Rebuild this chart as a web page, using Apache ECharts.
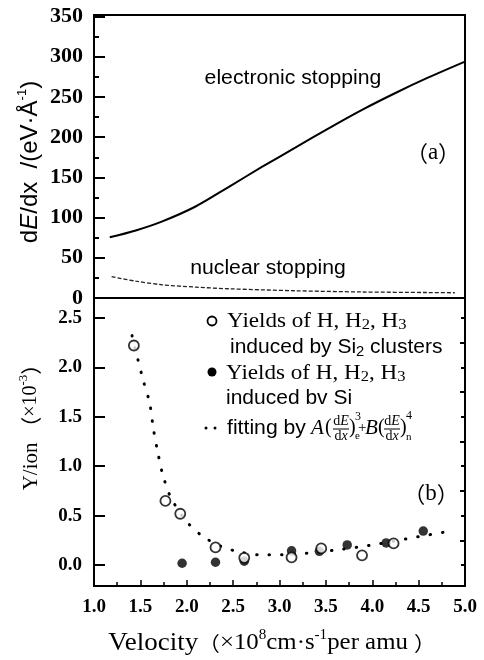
<!DOCTYPE html>
<html>
<head>
<meta charset="utf-8">
<script src="https://cdn.jsdelivr.net/npm/echarts@6/dist/echarts.min.js"></script>
<style>
  html, body { margin: 0; padding: 0; background: #fff; }
  #chart { width: 484px; height: 660px; }
</style>
</head>
<body>
<div id="chart"></div>
<script>
// (a) stopping power vs velocity
const elecVel = [1.17, 1.45, 1.73, 2.09, 2.45, 2.81, 3.17, 3.53, 3.89, 4.25, 4.60, 5.0];
const elecDE = [75.5, 84, 95, 113.5, 138, 163, 187, 211, 234, 255, 274, 294];
const nuclVel = [1.19, 1.45, 1.73, 2.1, 2.45, 3.17, 3.89, 4.6, 4.89];
const nuclDE = [26.5, 21, 16.5, 13.5, 11.5, 9, 7.5, 6.8, 6.5];

// (b) yields per ion (x10^-3)
const clusterVel = [1.43, 1.77, 1.93, 2.31, 2.62, 3.13, 3.45, 3.89, 4.23];
const clusterY = [2.22, 0.65, 0.52, 0.18, 0.075, 0.08, 0.17, 0.10, 0.22];
const siVel = [1.95, 2.31, 2.62, 3.13, 3.43, 3.73, 4.15, 4.55];
const siY = [0.02, 0.03, 0.04, 0.145, 0.14, 0.205, 0.225, 0.345];
const fitVel = [1.41, 1.47, 1.53, 1.60, 1.64, 1.69, 1.74, 1.83, 2.0, 2.16, 2.37, 2.52, 2.78, 3.02, 3.28, 3.58, 3.97, 4.36, 4.78];
const fitY = [2.32, 2.09, 1.87, 1.64, 1.38, 1.13, 0.92, 0.68, 0.44, 0.30, 0.19, 0.145, 0.105, 0.105, 0.12, 0.15, 0.20, 0.265, 0.335];

// ticks
const topTicks = [0, 50, 100, 150, 200, 250, 300, 350];
const botMajor = [0, 0.5, 1.0, 1.5, 2.0, 2.5];
const botMinor = [0.25, 0.75, 1.25, 1.75, 2.25];

const SERIF = '"Liberation Serif", "Times New Roman", serif';
const SANS = '"Liberation Sans", Arial, sans-serif';
const CJK = '"Noto Sans CJK SC", sans-serif';

const zip = (a, b) => a.map((v, i) => [v, b[i]]);

const chart = echarts.init(document.getElementById('chart'), null, { renderer: 'canvas' });

// scanned lettering is a bit wider than the fonts we have
function txt(x, y, text, rich, extra, sx) {
  return {
    type: 'text', x: x, y: y, z: 100, scaleX: sx || 1,
    style: Object.assign({ text: text, rich: rich, fill: '#000', align: 'left', verticalAlign: 'middle' }, extra || {})
  };
}

const richBase = {
  t: { fontFamily: SERIF, fontSize: 21, lineHeight: 24, color: '#000' },
  s: { fontFamily: SANS, fontSize: 20, lineHeight: 24, color: '#000' },
  b: { fontFamily: SERIF, fontSize: 15, lineHeight: 14, verticalAlign: 'bottom', color: '#000' },
  bs: { fontFamily: SANS, fontSize: 14, lineHeight: 14, verticalAlign: 'bottom', color: '#000' },
  p: { fontFamily: CJK, fontSize: 22, lineHeight: 26, color: '#000' },
  pt: { fontFamily: SERIF, fontSize: 23, lineHeight: 26, color: '#000' }
};
const fracRich = {
  n: { fontFamily: SERIF, fontSize: 14 },
  i: { fontFamily: SERIF, fontSize: 14, fontStyle: 'italic' }
};

const graphic = [
  // axis names
  Object.assign(txt(30, 162, '{n|d}{i|E}{n|/dx  /(eV·Å}{u|-1}{n|)}', {
    n: { fontFamily: SANS, fontSize: 24, lineHeight: 28 },
    i: { fontFamily: SANS, fontSize: 24, lineHeight: 28, fontStyle: 'italic' },
    u: { fontFamily: SANS, fontSize: 13, lineHeight: 13, verticalAlign: 'top' }
  }, { align: 'center' }), { rotation: Math.PI / 2 }),
  Object.assign(txt(31, 422, '{n|Y/ion}{p| （}{m|×10}{u|-3}{p|）}', {
    n: { fontFamily: SERIF, fontSize: 21, lineHeight: 28 },
    m: { fontFamily: SERIF, fontSize: 20, lineHeight: 28 },
    p: { fontFamily: CJK, fontSize: 21, lineHeight: 28 },
    u: { fontFamily: SERIF, fontSize: 13, lineHeight: 13, verticalAlign: 'top' }
  }, { align: 'center' }), { rotation: Math.PI / 2 }),
  txt(272, 643, '{v|Velocity}{p|（}{m|×10}{u|8}{m|cm·s}{u|-1}{m|per amu }{p|）}', {
    v: { fontFamily: SERIF, fontSize: 25, lineHeight: 30 },
    m: { fontFamily: SERIF, fontSize: 23, lineHeight: 30 },
    p: { fontFamily: CJK, fontSize: 20, lineHeight: 30 },
    u: { fontFamily: SERIF, fontSize: 14, lineHeight: 14, verticalAlign: 'top' }
  }, { align: 'center' }, 1.08),

  // panel (a) annotations
  txt(293, 78, '{s|electronic stopping}', richBase, { align: 'center' }, 1.06),
  txt(268, 268, '{s|nuclear stopping}', richBase, { align: 'center' }, 1.06),
  txt(433, 153, '{p|（}{pt|a}{p|）}', richBase, { align: 'center' }),
  txt(431, 494, '{p|（}{pt|b}{p|）}', richBase, { align: 'center' }),

  // legend of panel (b)
  { type: 'circle', z: 100, shape: { cx: 212, cy: 321, r: 4.5 }, style: { fill: '#fff', stroke: '#000', lineWidth: 1.8 } },
  txt(227, 321, '{t|Yields of H, H}{b|2}{t|, H}{b|3}', richBase, null, 1.1),
  txt(230, 347, '{s|induced by Si}{bs|2}{s| clusters}', richBase, null, 1.05),
  { type: 'circle', z: 100, shape: { cx: 212, cy: 372, r: 4.5 }, style: { fill: '#000' } },
  txt(226, 373, '{t|Yields of H, H}{b|2}{t|, H}{b|3}', richBase, null, 1.1),
  txt(226, 398, '{s|induced bv Si}', richBase, null, 1.05),
  { type: 'circle', z: 100, shape: { cx: 206, cy: 428, r: 1.5 }, style: { fill: '#000' } },
  { type: 'circle', z: 100, shape: { cx: 215, cy: 428, r: 1.5 }, style: { fill: '#000' } },
  txt(227, 428, '{s|fitting by}', richBase, null, 1.06),
  txt(311, 428, 'A', null, { font: 'italic 21px ' + SERIF }),
  txt(325, 428, '(', null, { font: '20px ' + SERIF }),
  txt(341, 421, '{n|d}{i|E}', fracRich, { align: 'center' }),
  txt(341, 436, '{n|d}{i|x}', fracRich, { align: 'center' }),
  { type: 'line', z: 100, shape: { x1: 333, y1: 429, x2: 349, y2: 429 }, style: { stroke: '#000', lineWidth: 1 } },
  txt(349, 428, ')', null, { font: '20px ' + SERIF }),
  txt(355, 417, '3', null, { font: '12px ' + SERIF }),
  txt(355, 436, 'e', null, { font: '11px ' + SERIF }),
  txt(358, 428, '+', null, { font: '15px ' + SERIF }),
  txt(365, 428, 'B', null, { font: 'italic 21px ' + SERIF }),
  txt(378, 428, '(', null, { font: '20px ' + SERIF }),
  txt(392, 421, '{n|d}{i|E}', fracRich, { align: 'center' }),
  txt(392, 436, '{n|d}{i|x}', fracRich, { align: 'center' }),
  { type: 'line', z: 100, shape: { x1: 384, y1: 429, x2: 400, y2: 429 }, style: { stroke: '#000', lineWidth: 1 } },
  txt(400, 428, ')', null, { font: '20px ' + SERIF }),
  txt(406, 416, '4', null, { font: '12px ' + SERIF }),
  txt(406, 437, 'n', null, { font: '11px ' + SERIF })
];

const option = {
  animation: false,
  backgroundColor: '#fff',
  grid: [
    { left: 94, right: 19, top: 15, height: 283, show: true, borderColor: '#000', borderWidth: 2, backgroundColor: 'transparent' },
    { left: 94, right: 19, top: 298, height: 288, show: true, borderColor: '#000', borderWidth: 2, backgroundColor: 'transparent' }
  ],
  xAxis: [
    {
      gridIndex: 0, type: 'value', min: 1, max: 5, interval: 0.5,
      axisLine: { show: false }, axisTick: { show: false }, axisLabel: { show: false }, splitLine: { show: false }
    },
    {
      gridIndex: 1, type: 'value', min: 1, max: 5, interval: 0.5,
      axisLine: { show: true, onZero: false, lineStyle: { color: '#000', width: 2 } },
      axisTick: { inside: true, length: 6, lineStyle: { color: '#000', width: 1.5 } },
      minorTick: { show: true, splitNumber: 2, length: 4, lineStyle: { color: '#000', width: 1.5 } },
      axisLabel: {
        margin: 12, color: '#000', fontFamily: SERIF, fontSize: 19, fontWeight: 'bold',
        formatter: v => v.toFixed(1)
      },
      splitLine: { show: false }
    }
  ],
  yAxis: [
    {
      gridIndex: 0, type: 'value', min: 0, max: 352, interval: 50,
      axisLine: { show: true, lineStyle: { color: '#000', width: 2 } },
      axisTick: { inside: true, length: 11, lineStyle: { color: '#000', width: 2 } },
      minorTick: { show: true, splitNumber: 2, length: 5, lineStyle: { color: '#000', width: 2 } },
      axisLabel: {
        margin: 11, color: '#000', fontFamily: SERIF, fontSize: 22, fontWeight: 'bold',
        customValues: topTicks
      },
      splitLine: { show: false }
    },
    {
      gridIndex: 1, type: 'value', min: -0.21, max: 2.70,
      axisLine: { show: true, onZero: false, lineStyle: { color: '#000', width: 2 } },
      axisTick: { inside: true, length: 11, customValues: botMajor, lineStyle: { color: '#000', width: 2 } },
      axisLabel: {
        margin: 12, color: '#000', fontFamily: SERIF, fontSize: 19, fontWeight: 'bold',
        customValues: botMajor, formatter: v => v.toFixed(1)
      },
      splitLine: { show: false }
    },
    {
      gridIndex: 1, type: 'value', min: -0.21, max: 2.70,
      axisLine: { show: false },
      axisTick: { inside: true, length: 5, customValues: botMinor, lineStyle: { color: '#000', width: 2 } },
      axisLabel: { show: false, customValues: botMinor },
      splitLine: { show: false }
    },
    {
      gridIndex: 1, type: 'value', min: -0.21, max: 2.70, position: 'right',
      axisLine: { show: false },
      axisTick: { inside: true, length: 4, customValues: botMajor, lineStyle: { color: '#000', width: 2 } },
      axisLabel: { show: false, customValues: botMajor },
      splitLine: { show: false }
    }
  ],
  series: [
    {
      name: 'electronic stopping', type: 'line', xAxisIndex: 0, yAxisIndex: 0,
      data: zip(elecVel, elecDE), smooth: 0.3, showSymbol: false,
      lineStyle: { color: '#000', width: 2 }
    },
    {
      name: 'nuclear stopping', type: 'line', xAxisIndex: 0, yAxisIndex: 0,
      data: zip(nuclVel, nuclDE), smooth: 0.3, showSymbol: false,
      lineStyle: { color: '#222', width: 1.3, type: [4, 2] }
    },
    {
      name: 'fitting', type: 'line', xAxisIndex: 1, yAxisIndex: 1,
      data: zip(fitVel, fitY), smooth: 0.3, showSymbol: false,
      lineStyle: { color: '#000', width: 3, type: [0.5, 12], cap: 'round' }
    },
    {
      name: 'Si', type: 'scatter', xAxisIndex: 1, yAxisIndex: 1,
      data: zip(siVel, siY), symbol: 'circle', symbolSize: 9.5,
      itemStyle: { color: '#000' }, z: 4
    },
    {
      name: 'Si2', type: 'scatter', xAxisIndex: 1, yAxisIndex: 1,
      data: zip(clusterVel, clusterY), symbol: 'circle', symbolSize: 10,
      itemStyle: { color: '#fff', borderColor: '#000', borderWidth: 1.8 }, z: 5
    }
  ],
  graphic: graphic
};

chart.setOption(option);
</script>
</body>
</html>
